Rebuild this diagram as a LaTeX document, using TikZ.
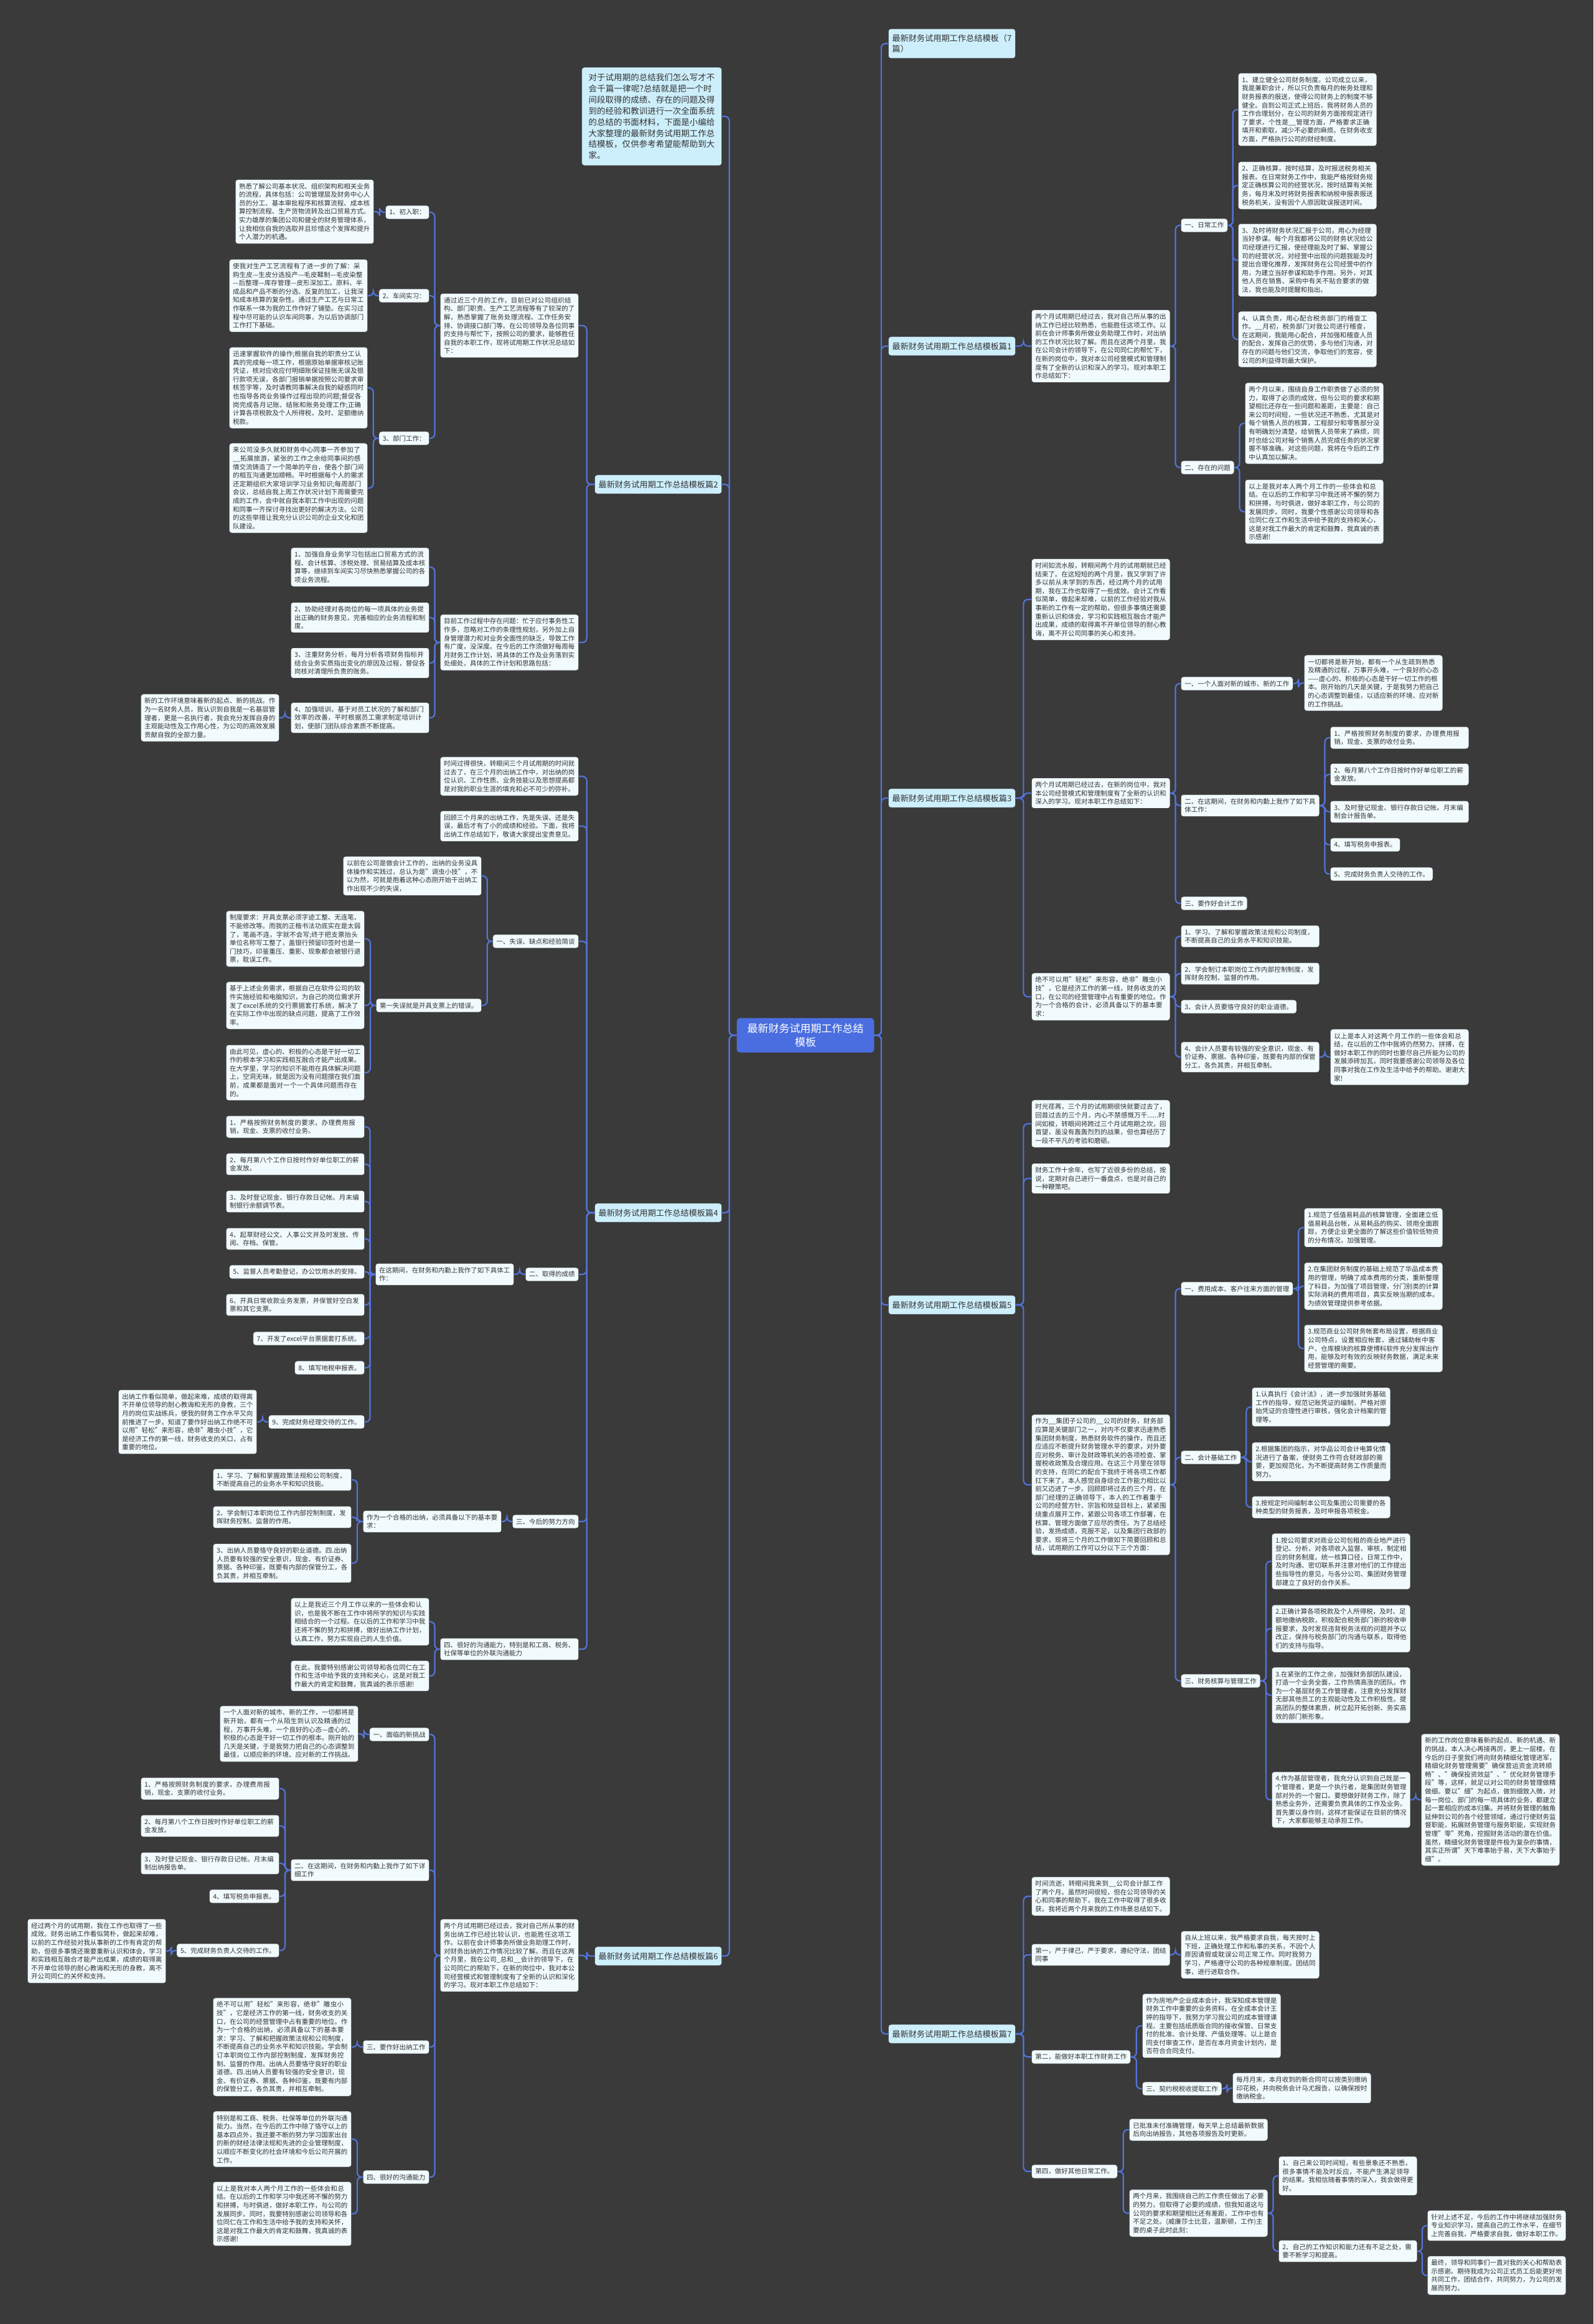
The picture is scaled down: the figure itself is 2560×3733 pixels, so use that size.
\documentclass[tikz,border=0pt]{standalone}
\usepackage{fontspec}
\setmainfont{Noto Sans CJK SC}
\XeTeXlinebreaklocale "zh"
\XeTeXlinebreakskip=0pt plus 1pt
\usepackage{tikz}
\usetikzlibrary{calc}
\definecolor{mapBg}{HTML}{3A3A3A}
\definecolor{mapLink}{HTML}{5274DA}
\definecolor{mapRoot}{HTML}{4A6EE0}
\definecolor{mapHead}{HTML}{CDEFFC}
\definecolor{mapLeaf}{HTML}{F1FAFD}
\definecolor{mapInk}{HTML}{333333}
\newcommand{\toR}[2]{\draw[link] (#1.east) -- ($(#1.east)!.5!(#1.east -| #2.west)$) |- (#2.west);}
\newcommand{\toL}[2]{\draw[link] (#1.west) -- ($(#1.west)!.5!(#1.west -| #2.east)$) |- (#2.east);}

\begin{document}
\begin{tikzpicture}[
  x=1pt,y=-1pt,
  box/.style={draw=black!75,line width=.6pt,rounded corners=4pt,text=mapInk,inner xsep=6pt,inner ysep=6pt,
    font=\fontsize{10.5}{13.6}\selectfont},
  leaf/.style={box,fill=mapLeaf,text width=210.5pt,align=left},
  tag/.style={box,fill=mapLeaf},
  head/.style={box,fill=mapHead,inner ysep=9pt,font=\fontsize{13.2}{17}\selectfont},
  intro/.style={box,fill=mapHead,text width=203pt,align=left,inner xsep=11pt,inner ysep=10pt,font=\fontsize{13.5}{17.9}\selectfont},
  root/.style={draw=black!75,rounded corners=5pt,fill=mapRoot,text=white,align=center,inner xsep=17pt,inner ysep=9pt,
    font=\fontsize{17}{22}\selectfont},
  link/.style={draw=mapLink,line width=2.2pt,rounded corners=7pt},
  R/.style={anchor=west},
  L/.style={anchor=east}
]
\fill[mapBg] (0,0) rectangle (2560,3733);
\useasboundingbox (0,0) rectangle (2560,3733);

\node[root] (root) at (1294,1663) {最新财务试用期工作总结\\模板};

% right side
\node[head,R,align=left] (r0) at (1427,70) {最新财务试用期工作总结模板（7\\篇）};

\node[head,R] (r1) at (1427,556) {最新财务试用期工作总结模板篇1};
\node[leaf,R] (r1t) at (1657,556) {两个月试用期已经过去，我对自己所从事的出纳工作已经比较熟悉，也能胜任这项工作。以前在会计师事务所做业务助理工作时，对出纳的工作状况比较了解。而且在这两个月里，我在公司会计的领导下，在公司同仁的帮忙下，在新的岗位中，我对本公司经营模式和管理制度有了全新的认识和深入的学习。现对本职工作总结如下：};
\node[tag,R] (r1a) at (1897,362) {一、日常工作};
\node[tag,R] (r1b) at (1897,751) {二、存在的问题};
\node[leaf,R] (r1a1) at (1989,176) {1、建立健全公司财务制度。公司成立以来，我是兼职会计，所以只负责每月的帐务处理和财务报表的报送，使得公司财务上的制度不够健全。自到公司正式上班后，我将财务人员的工作合理划分，在公司的财务方面按规定进行了要求，个性是\_\_管理方面，严格要求正确填开和索取，减少不必要的麻烦。在财务收支方面，严格执行公司的财经制度。};
\node[leaf,R] (r1a2) at (1989,298) {2、正确核算，按时结算，及时报送税务相关报表。在日常财务工作中，我能严格按财务规定正确核算公司的经营状况，按时结算有关帐务，每月末及时将财务报表和纳税申报表报送税务机关，没有因个人原因耽误报送时间。};
\node[leaf,R] (r1a3) at (1989,418) {3、及时将财务状况汇报于公司，用心为经理当好参谋。每个月我都将公司的财务状况给公司经理进行汇报，使经理能及时了解、掌握公司的经营状况，对经营中出现的问题我能及时提出合理化推荐，发挥财务在公司经营中的作用，为建立当好参谋和助手作用。另外，对其他人员在销售、采购中有关不贴合要求的做法，我也能及时提醒和指出。};
\node[leaf,R] (r1a4) at (1989,545) {4、认真负责，用心配合税务部门的稽查工作。\_\_月初，税务部门对我公司进行稽查，在这期间，我能用心配合，并加强和稽查人员的配合，发挥自己的优势，多与他们沟通，对存在的问题与他们交流，争取他们的宽容，使公司的利益得到最大保护。};
\node[leaf,R] (r1b1) at (2000,680) {两个月以来，围绕自身工作职责做了必须的努力，取得了必须的成效，但与公司的要求和期望相比还存在一些问题和差距，主要是：自己来公司时间短，一些状况还不熟悉，尤其是对每个销售人员的核算，工程部分和零售部分没有明确划分清楚，给销售人员带来了麻烦，同时也给公司对每个销售人员完成任务的状况掌握不够准确。对这些问题，我将在今后的工作中认真加以解决。};
\node[leaf,R] (r1b2) at (2000,822) {以上是我对本人两个月工作的一些体会和总结。在以后的工作和学习中我还将不懈的努力和拼搏，与时俱进，做好本职工作，与公司的发展同步。同时，我要个性感谢公司领导和各位同仁在工作和生活中给予我的支持和关心，这是对我工作最大的肯定和鼓舞，我真诚的表示感谢!};

\node[head,R] (r3) at (1427,1282) {最新财务试用期工作总结模板篇3};
\node[leaf,R] (r3t1) at (1657,963) {时间如流水般，转眼间两个月的试用期就已经结束了。在这短短的两个月里，我又学到了许多以前从未学到的东西，经过两个月的试用期，我在工作也取得了一些成效。会计工作看似简单，做起来却难，以前的工作经验对我从事新的工作有一定的帮助，但很多事情还需要重新认识和体会，学习和实践相互融合才能产出成果，成绩的取得离不开单位领导的耐心教诲，离不开公司同事的关心和支持。};
\node[leaf,R] (r3t2) at (1657,1274) {两个月试用期已经过去，在新的岗位中，我对本公司经营模式和管理制度有了全新的认识和深入的学习。现对本职工作总结如下：};
\node[leaf,R] (r3t3) at (1657,1601) {绝不可以用"轻松"来形容，绝非"雕虫小技"，它是经济工作的第一线，财务收支的关口，在公司的经营管理中占有重要的地位。作为一个合格的会计，必须具备以下的基本要求：};
\node[tag,R] (r3a) at (1897,1098) {一、一个人面对新的城市、新的工作};
\node[leaf,R] (r3b) at (1897,1294) {二、在这期间，在财务和内勤上我作了如下具体工作：};
\node[tag,R] (r3c) at (1897,1451) {三、要作好会计工作};
\node[leaf,R] (r3a1) at (2095,1097) {一切都将是新开始，都有一个从生疏到熟悉及精通的过程，万事开头难，一个良好的心态——虚心的、积极的心态是干好一切工作的根本。刚开始的几天是关键，于是我努力把自己的心态调整到最佳，以适应新的环境、应对新的工作挑战。};
\node[leaf,R] (r3b1) at (2137,1185) {1、严格按照财务制度的要求，办理费用报销，现金、支票的收付业务。};
\node[leaf,R] (r3b2) at (2137,1244) {2、每月第八个工作日按时作好单位职工的薪金发放。};
\node[leaf,R] (r3b3) at (2137,1304) {3、及时登记现金、银行存款日记帐。月末编制会计报告单。};
\node[tag,R] (r3b4) at (2137,1357) {4、填写税务申报表。};
\node[tag,R] (r3b5) at (2137,1404) {5、完成财务负责人交待的工作。};
\node[leaf,R] (r3d1) at (1897,1504) {1、学习、了解和掌握政策法规和公司制度，不断提高自己的业务水平和知识技能。};
\node[leaf,R] (r3d2) at (1897,1564) {2、学会制订本职岗位工作内部控制制度，发挥财务控制、监督的作用。};
\node[tag,R] (r3d3) at (1897,1617) {3、会计人员要恪守良好的职业道德。};
\node[leaf,R] (r3d4) at (1897,1698) {4、会计人员要有较强的安全意识，现金、有价证券、票据、各种印鉴，既要有内部的保管分工，各负其责，并相互牵制。};
\node[leaf,R] (r3d4a) at (2137,1698) {以上是本人对这两个月工作的一些体会和总结，在以后的工作中我将仍然努力、拼搏，在做好本职工作的同时也要尽自己所能为公司的发展添砖加瓦，同时我要感谢公司领导及各位同事对我在工作及生活中给予的帮助。谢谢大家!};

\node[head,R] (r5) at (1427,2096) {最新财务试用期工作总结模板篇5};
\node[leaf,R] (r5t1) at (1657,1805) {时光荏苒，三个月的试用期很快就要过去了，回首过去的三个月，内心不禁感慨万千......时间如梭，转眼间将跨过三个月试用期之坎，回首望，虽没有轰轰烈烈的战果，但也算经历了一段不平凡的考验和磨砺。};
\node[leaf,R] (r5t2) at (1657,1893) {财务工作十余年，也写了近很多份的总结，按说，定期对自己进行一番盘点，也是对自己的一种鞭策吧。};
\node[leaf,R] (r5t3) at (1657,2385) {作为\_\_集团子公司的\_\_公司的财务，财务部应算是关键部门之一，对内不仅要求迅速熟悉集团财务制度，熟悉财务软件的操作，而且还应适应不断提升财务管理水平的要求，对外要应对税务、审计及财政等机关的各项检查、掌握税收政策及合理应用。在这三个月里在领导的支持，在同仁的配合下我终于将各项工作都扛下来了。本人感觉自身综合工作能力相比以前又迈进了一步。回顾即将过去的三个月，在部门经理的正确领导下，本人的工作着重于公司的经营方针、宗旨和效益目标上，紧紧围绕重点展开工作，紧跟公司各项工作部署，在核算、管理方面做了应尽的责任。为了总结经验，发扬成绩，克服不足，以及集团行政部的要求，现将三个月的工作做如下简要回顾和总结，试用期的工作可以分以下三个方面：};
\node[tag,R] (r5a) at (1897,2070) {一、费用成本、客户往来方面的管理};
\node[tag,R] (r5b) at (1897,2341) {二、会计基础工作};
\node[tag,R] (r5c) at (1897,2700) {三、财务核算与管理工作};
\node[leaf,R] (r5a1) at (2095,1972) {1.规范了低值易耗品的核算管理，全面建立低值易耗品台帐，从易耗品的购买、领用全面跟踪，方便企业更全面的了解这些价值较低物资的分布情况，加强管理。};
\node[leaf,R] (r5a2) at (2095,2066) {2.在集团财务制度的基础上规范了华品成本费用的管理，明确了成本费用的分类，重新整理了科目，为加强了项目管理，分门别类的计算实际消耗的费用项目，真实反映当期的成本。为绩效管理提供参考依据。};
\node[leaf,R] (r5a3) at (2095,2166) {3.规范商业公司财务帐套布局设置，根据商业公司特点，设置相应帐套，通过辅助帐中客户、仓库模块的核算使博科软件充分发挥出作用，能够及时有效的反映财务数据，满足未来经营管理的需要。};
\node[leaf,R] (r5b1) at (2011,2260) {1.认真执行《会计法》，进一步加强财务基础工作的指导，规范记账凭证的编制，严格对原始凭证的合理性进行审核，强化会计档案的管理等。};
\node[leaf,R] (r5b2) at (2011,2348) {2.根据集团的指示，对华品公司会计电算化情况进行了备案，使财务工作符合财政部的需要，更加规范化，为不断提高财务工作质量而努力。};
\node[leaf,R] (r5b3) at (2011,2421) {3.按规定时间编制本公司及集团公司需要的各种类型的财务报表，及时申报各项税金。};
\node[leaf,R] (r5c1) at (2043,2508) {1.按公司要求对商业公司包租的商业地产进行登记、分析，对各项收入监督、审核，制定相应的财务制度。统一核算口径，日常工作中，及时沟通、密切联系并注意对他们的工作提出些指导性的意见，与各分公司、集团财务管理部建立了良好的合作关系。};
\node[leaf,R] (r5c2) at (2043,2616) {2.正确计算各项税款及个人所得税，及时、足额地缴纳税款，积极配合税务部门新的税收申报要求，及时发现违背税务法规的问题并予以改正，保持与税务部门的沟通与联系，取得他们的支持与指导。};
\node[leaf,R] (r5c3) at (2043,2723) {3.在紧张的工作之余，加强财务部团队建设，打造一个业务全面，工作热情高涨的团队。作为一个基层财务工作管理者，注意充分发挥财无部其他员工的主观能动性及工作积极性。提高团队的整体素质，树立起开拓创新、务实高效的部门新形象。};
\node[leaf,R] (r5c4) at (2043,2891) {4.作为基层管理者，我充分认识到自己既是一个管理者，更是一个执行者，是集团财务管理部对外的一个窗口。要想做好财务工作，除了熟悉业务外，还需要负责具体的工作及业务。首先要以身作则，这样才能保证在目前的情况下，大家都能够主动承担工作。};
\node[leaf,R] (r5c4a) at (2283,2891) {新的工作岗位意味着新的起点、新的机遇、新的挑战，本人决心再接再厉，更上一层楼。在今后的日子里我们将向财务精细化管理进军，精细化财务管理需要"确保营运资金流转顺畅"、"确保投资效益"、"优化财务管理手段"等，这样，就足以对公司的财务管理做精做细。要以"细"为起点，做到细致入微，对每一岗位、部门的每一项具体的业务，都建立起一套相应的成本归集。并将财务管理的触角延伸到公司的各个经营领域，通过行使财务监督职能，拓展财务管理与服务职能，实现财务管理"零"死角，挖掘财务活动的潜在价值。虽然，精细化财务管理是件极为复杂的事情，其实正所谓"天下难事始于易，天下大事始于细"。};

\node[head,R] (r7) at (1427,3267) {最新财务试用期工作总结模板篇7};
\node[leaf,R] (r7t1) at (1657,3046) {时间流逝，转眼间我来到\_\_公司会计部工作了两个月。虽然时间很短，但在公司领导的关心和同事的帮助下，我在工作中取得了很多收获。我将近两个月来我的工作场景总结如下。};
\node[leaf,R] (r7t2) at (1657,3140) {第一，严于律己，严于要求，遵纪守法，团结同事};
\node[leaf,R] (r7t2a) at (1897,3140) {自从上班以来，我严格要求自我，每天按时上下班，正确处理工作和私事的关系，不因个人原因请假或耽误公司正常工作。同时我努力学习，严格遵守公司的各种规章制度。团结同事，进行进取合作。};
\node[tag,R] (r7t3) at (1657,3304) {第二，能做好本职工作财务工作};
\node[leaf,R] (r7t3a) at (1835,3254) {作为房地产企业成本会计，我深知成本管理是财务工作中重要的业务资料，在全成本会计王婷的指导下，我努力学习我公司的成本管理课程。主要包括纸质版合同的接收保管、日常支付的批准、会计处理、产值处理等。以上是合同支付审查工作，是否在本月资金计划内，是否符合合同支付。};
\node[tag,R] (r7t3b) at (1835,3355) {三、契约税税收提取工作};
\node[leaf,R] (r7t3b1) at (1980,3354) {每月月末，本月收到的新合同可以按类别缴纳印花税，并向税务会计马尤报告，以确保按时缴纳税金。};
\node[tag,R] (r7t4) at (1657,3488) {第四，做好其他日常工作。};
\node[leaf,R] (r7t4a) at (1814,3421) {已批准未付准确管理，每天早上总结最新数据后向出纳报告，其他各项报告及时更新。};
\node[leaf,R] (r7t4b) at (1814,3555) {两个月来，我围绕自己的工作责任做出了必要的努力，但取得了必要的成绩，但我知道这与公司的要求和期望相比还有差距，工作中也有不足之处。(威廉莎士比亚，温斯顿，工作)主要的桌子此时此刻：};
\node[leaf,R] (r7t4b1) at (2054,3495) {1、自己来公司时间短，有些景象还不熟悉，很多事情不能及时反应，不能产生满足领导的结果。我相信随着事情的深入，我会做得更好。};
\node[leaf,R] (r7t4b2) at (2054,3616) {2、自己的工作知识和能力还有不足之处，需要不断学习和提高。};
\node[leaf,R] (r7t4b2a) at (2293,3575) {针对上述不足，今后的工作中将继续加强财务专业知识学习，提高自己的工作水平，在细节上完善自我，严格要求自我，做好本职工作。};
\node[leaf,R] (r7t4b2b) at (2293,3655) {最终，领导和同事们一直对我的关心和帮助表示感谢。期待我成为公司正式员工后能更好地共同工作，团结合作，共同努力，为公司的发展而努力。};

% left side
\node[intro,L] (intro) at (1160,187) {对于试用期的总结我们怎么写才不会千篇一律呢?总结就是把一个时间段取得的成绩、存在的问题及得到的经验和教训进行一次全面系统的总结的书面材料，下面是小编给大家整理的最新财务试用期工作总结模板，仅供参考希望能帮助到大家。};

\node[head,L] (l2) at (1160,778) {最新财务试用期工作总结模板篇2};
\node[leaf,L] (l2t1) at (930,523) {通过近三个月的工作，目前已对公司组织结构、部门职责、生产工艺流程等有了较深的了解，熟悉掌握了账务处理流程、工作任务安排、协调接口部门等。在公司领导及各位同事的支持与帮忙下，按照公司的要求，能够胜任自我的本职工作，现将试用期工作状况总结如下：};
\node[tag,L] (l2a) at (690,341) {1、初入职：};
\node[tag,L] (l2b) at (690,475) {2、车间实习：};
\node[tag,L] (l2c) at (690,704) {3、部门工作：};
\node[leaf,L] (l2a1) at (601,340) {熟悉了解公司基本状况、组织架构和相关业务的流程，具体包括：公司管理层及财务中心人员的分工、基本审批程序和核算流程、成本核算控制流程、生产货物流转及出口贸易方式。实力雄厚的集团公司和健全的财务管理体系，让我相信自我的选取并且珍惜这个发挥和提升个人潜力的机遇。};
\node[leaf,L] (l2b1) at (591,475) {使我对生产工艺流程有了进一步的了解：采购生皮—生皮分选投产—毛皮鞣制—毛皮染整—后整理—库存管理—皮形深加工。原料、半成品和产品不断的分选、反复的加工，让我深知成本核算的复杂性。通过生产工艺与日常工作联系一体为我的工作作好了铺垫。在实习过程中尽可能的认识车间同事，为以后协调部门工作打下基础。};
\node[leaf,L] (l2c1) at (591,623) {迅速掌握软件的操作;根据自我的职责分工认真的完成每一项工作，根据原始单据审核记账凭证，核对应收应付明细账保证挂账无误及银行款项无误，各部门报销单据按照公司要求审核签字等，及时请教同事解决自我的疑惑同时也指导各岗业务操作过程出现的问题;督促各岗完成各月记账、结账和账务处理工作;正确计算各项税款及个人所得税，及时、足额缴纳税款。};
\node[leaf,L] (l2c2) at (591,784) {来公司没多久就和财务中心同事一齐参加了\_\_拓展旅游，紧张的工作之余给同事间的感情交流铸造了一个简单的平台，使各个部门间的相互沟通更加顺畅。平时根据每个人的需求还定期组织大家培训学习业务知识;每周部门会议，总结自我上周工作状况计划下周需要完成的工作，会中就自我本职工作中出现的问题和同事一齐探讨寻找出更好的解决方法。公司的这些举措让我充分认识公司的企业文化和团队建设。};
\node[leaf,L] (l2t2) at (930,1032) {目前工作过程中存在问题：忙于应付事务性工作多，忽略对工作的条理性规划，另外加上自身管理潜力和对业务全面性的缺乏，导致工作有广度，没深度。在今后的工作须做好每周每月财务工作计划，将具体的工作及业务落到实处细处，具体的工作计划和思路包括：};
\node[leaf,L] (l2d1) at (690,911) {1、加强自身业务学习包括出口贸易方式的流程、会计核算、涉税处理、贸易结算及成本核算等，继续到车间实习尽快熟悉掌握公司的各项业务流程。};
\node[leaf,L] (l2d2) at (690,992) {2、协助经理对各岗位的每一项具体的业务提出正确的财务意见，完善相应的业务流程和制度。};
\node[leaf,L] (l2d3) at (690,1065) {3、注重财务分析，每月分析各项财务指标并结合业务实质指出变化的原因及过程，督促各岗核对清理所负责的账务。};
\node[leaf,L] (l2d4) at (690,1153) {4、加强培训，基于对员工状况的了解和部门效率的改善，平时根据员工需求制定培训计划，使部门团队综合素质不断提高。};
\node[leaf,L] (l2d4a) at (449,1153) {新的工作环境意味着新的起点、新的挑战。作为一名财务人员，我认识到自我是一名基层管理者，更是一名执行者，我会充分发挥自身的主观能动性及工作用心性，为公司的高效发展贡献自我的全部力量。};

\node[head,L] (l4) at (1160,1948) {最新财务试用期工作总结模板篇4};
\node[leaf,L] (l4t1) at (930,1247) {时间过得很快，转眼间三个月试用期的时间就过去了，在三个月的出纳工作中，对出纳的岗位认识、工作性质、业务技能以及思想提高都是对我的职业生涯的填充和必不可少的弥补。};
\node[leaf,L] (l4t2) at (930,1327) {回顾三个月来的出纳工作，先是失误、还是失误，最后才有了小的成绩和经验。下面，我将出纳工作总结如下，敬请大家提出宝贵意见。};
\node[tag,L] (l4a) at (930,1512) {一、失误、缺点和经验简谈};
\node[leaf,L] (l4a1) at (774,1407) {以前在公司是做会计工作的，出纳的业务没具体操作和实践过，总认为是"调虫小技"，不以为然，可就是抱着这种心态刚开始干出纳工作出现不少的失误，};
\node[tag,L] (l4a2) at (774,1615) {第一失误就是开具支票上的错误。};
\node[leaf,L] (l4a2x) at (586,1508) {制度要求：开具支票必须字迹工整、无连笔、不能修改等。而我的正楷书法功底实在是太弱了，笔画不连，字就不会写;终于把支票抬头单位名称写工整了，盖银行预留印签时也是一门技巧，印鉴重压、重影、现象都会被银行退票，耽误工作。};
\node[leaf,L] (l4a2y) at (586,1615) {基于上述业务需求，根据自己在软件公司的软件实施经验和电脑知识，为自己的岗位需求开发了excel系统的交行票据套打系统，解决了在实际工作中出现的缺点问题，提高了工作效率。};
\node[leaf,L] (l4a2z) at (586,1723) {由此可见，虚心的、积极的心态是干好一切工作的根本学习和实践相互融合才能产出成果。在大学里，学习的知识不能用在具体解决问题上，空洞无味，就是因为没有问题摆在我们面前，成果都是面对一个一个具体问题而存在的。};
\node[tag,L] (l4b) at (930,2047) {二、取得的成绩};
\node[leaf,L] (l4b1) at (826,2047) {在这期间，在财务和内勤上我作了如下具体工作：};
\node[leaf,L] (l4w1) at (586,1810) {1、严格按照财务制度的要求，办理费用报销，现金、支票的收付业务。};
\node[leaf,L] (l4w2) at (586,1870) {2、每月第八个工作日按时作好单位职工的薪金发放。};
\node[leaf,L] (l4w3) at (586,1930) {3、及时登记现金、银行存款日记帐。月末编制银行余额调节表。};
\node[leaf,L] (l4w4) at (586,1990) {4、起草财经公文、人事公文并及时发放、传阅、存档、保管。};
\node[tag,L] (l4w5) at (586,2043) {5、监督人员考勤登记，办公饮用水的安排。};
\node[leaf,L] (l4w6) at (586,2096) {6、开具日常收款业务发票，并保管好空白发票和其它支票。};
\node[tag,L] (l4w7) at (586,2150) {7、开发了excel平台票据套打系统。};
\node[tag,L] (l4w8) at (586,2197) {8、填写地税申报表。};
\node[tag,L] (l4w9) at (586,2284) {9、完成财务经理交待的工作。};
\node[leaf,L] (l4w9a) at (413,2284) {出纳工作看似简单，做起来难，成绩的取得离不开单位领导的耐心教诲和无形的身教，三个月的岗位实战练兵，使我的财务工作水平又向前推进了一步。知道了要作好出纳工作绝不可以用"轻松"来形容，绝非"雕虫小技"，它是经济工作的第一线，财务收支的关口，占有重要的地位。};
\node[tag,L] (l4c) at (930,2444) {三、今后的努力方向};
\node[leaf,L] (l4c1) at (806,2444) {作为一个合格的出纳，必须具备以下的基本要求：};
\node[leaf,L] (l4c11) at (565,2377) {1、学习、了解和掌握政策法规和公司制度，不断提高自己的业务水平和知识技能。};
\node[leaf,L] (l4c12) at (565,2437) {2、学会制订本职岗位工作内部控制制度，发挥财务控制、监督的作用。};
\node[leaf,L] (l4c13) at (565,2511) {3、出纳人员要恪守良好的职业道德。四.出纳人员要有较强的安全意识，现金、有价证券、票据、各种印鉴，既要有内部的保管分工，各负其责，并相互牵制。};
\node[leaf,L] (l4d) at (930,2649) {四、很好的沟通能力，特别是和工商、税务、社保等单位的外联沟通能力};
\node[leaf,L] (l4d1) at (690,2605) {以上是我近三个月工作以来的一些体会和认识，也是我不断在工作中将所学的知识与实践相结合的一个过程。在以后的工作和学习中我还将不懈的努力和拼搏，做好出纳工作计划，认真工作，努力实现自己的人生价值。};
\node[leaf,L] (l4d2) at (690,2692) {在此，我要特别感谢公司领导和各位同仁在工作和生活中给予我的支持和关心，这是对我工作最大的肯定和鼓舞，我真诚的表示感谢!};

\node[head,L] (l6) at (1160,3142) {最新财务试用期工作总结模板篇6};
\node[leaf,L] (l6t) at (930,3141) {两个月试用期已经过去，我对自己所从事的财务出纳工作已经比较认识，也能胜任这项工作。以前在会计师事务所做业务助理工作时，对财务出纳的工作情况比较了解。而且在这两个月里，我在公司\_总和\_\_会计的领导下，在公司同仁的帮助下，在新的岗位中，我对本公司经营模式和管理制度有了全新的认识和深化的学习。现对本职工作总结如下：};
\node[tag,L] (l6a) at (690,2786) {一、面临的新挑战};
\node[leaf,L] (l6a1) at (576,2785) {一个人面对新的城市、新的工作，一切都将是新开始，都有一个从陌生到认识及精通的过程，万事开头难，一个良好的心态—虚心的、积极的心态是干好一切工作的根本。刚开始的几天是关键，于是我努力把自己的心态调整到最佳，以顺应新的环境、应对新的工作挑战。};
\node[leaf,L] (l6b) at (690,3004) {二、在这期间，在财务和内勤上我作了如下详细工作};
\node[leaf,L] (l6b1) at (449,2873) {1、严格按照财务制度的要求，办理费用报销，现金、支票的收付业务。};
\node[leaf,L] (l6b2) at (449,2933) {2、每月第八个工作日按时作好单位职工的薪金发放。};
\node[leaf,L] (l6b3) at (449,2993) {3、及时登记现金、银行存款日记帐。月末编制出纳报告单。};
\node[tag,L] (l6b4) at (449,3046) {4、填写税务申报表。};
\node[tag,L] (l6b5) at (449,3133) {5、完成财务负责人交待的工作。};
\node[leaf,L] (l6b5a) at (267,3134) {经过两个月的试用期，我在工作也取得了一些成效。财务出纳工作看似简朴，做起来却难，以前的工作经验对我从事新的工作有肯定的帮助，但很多事情还需要重新认识和体会，学习和实践相互融合才能产出成果，成绩的取得离不开单位领导的耐心教诲和无形的身教，离不开公司同仁的关怀和支持。};
\node[tag,L] (l6c) at (690,3288) {三、要作好出纳工作};
\node[leaf,L] (l6c1) at (565,3288) {绝不可以用"轻松"来形容，绝非"雕虫小技"，它是经济工作的第一线，财务收支的关口，在公司的经营管理中占有重要的地位。作为一个合格的出纳，必须具备以下的基本要求：学习、了解和把握政策法规和公司制度，不断提高自己的业务水平和知识技能。学会制订本职岗位工作内部控制制度，发挥财务控制、监督的作用。出纳人员要恪守良好的职业道德。四.出纳人员要有较强的安全意识，现金、有价证券、票据、各种印鉴，既要有内部的保管分工，各负其责，并相互牵制。};
\node[tag,L] (l6d) at (690,3497) {四、很好的沟通能力};
\node[leaf,L] (l6d1) at (565,3436) {特别是和工商、税务、社保等单位的外联沟通能力。当然，在今后的工作中除了恪守以上的基本四点外，我还要不断的努力学习国家出台的新的财经法律法规和先进的企业管理制度，以顺应不断变化的社会环境和今后公司开展的工作。};
\node[leaf,L] (l6d2) at (565,3556) {以上是我对本人两个月工作的一些体会和总结。在以后的工作和学习中我还将不懈的努力和拼搏，与时俱进，做好本职工作，与公司的发展同步。同时，我要特别感谢公司领导和各位同仁在工作和生活中给予我的支持和关怀，这是对我工作最大的肯定和鼓舞，我真诚的表示感谢!};

% connectors
\foreach \c in {r0,r1,r3,r5,r7} {\toR{root}{\c}}
\foreach \c in {intro,l2,l4,l6} {\toL{root}{\c}}
\toR{r1}{r1t}
\foreach \c in {r1a,r1b} {\toR{r1t}{\c}}
\foreach \c in {r1a1,r1a2,r1a3,r1a4} {\toR{r1a}{\c}}
\foreach \c in {r1b1,r1b2} {\toR{r1b}{\c}}
\foreach \c in {r3t1,r3t2,r3t3} {\toR{r3}{\c}}
\foreach \c in {r3a,r3b,r3c} {\toR{r3t2}{\c}}
\toR{r3a}{r3a1}
\foreach \c in {r3b1,r3b2,r3b3,r3b4,r3b5} {\toR{r3b}{\c}}
\foreach \c in {r3d1,r3d2,r3d3,r3d4} {\toR{r3t3}{\c}}
\toR{r3d4}{r3d4a}
\foreach \c in {r5t1,r5t2,r5t3} {\toR{r5}{\c}}
\foreach \c in {r5a,r5b,r5c} {\toR{r5t3}{\c}}
\foreach \c in {r5a1,r5a2,r5a3} {\toR{r5a}{\c}}
\foreach \c in {r5b1,r5b2,r5b3} {\toR{r5b}{\c}}
\foreach \c in {r5c1,r5c2,r5c3,r5c4} {\toR{r5c}{\c}}
\toR{r5c4}{r5c4a}
\foreach \c in {r7t1,r7t2,r7t3,r7t4} {\toR{r7}{\c}}
\toR{r7t2}{r7t2a}
\foreach \c in {r7t3a,r7t3b} {\toR{r7t3}{\c}}
\toR{r7t3b}{r7t3b1}
\foreach \c in {r7t4a,r7t4b} {\toR{r7t4}{\c}}
\foreach \c in {r7t4b1,r7t4b2} {\toR{r7t4b}{\c}}
\foreach \c in {r7t4b2a,r7t4b2b} {\toR{r7t4b2}{\c}}

\foreach \c in {l2t1,l2t2} {\toL{l2}{\c}}
\foreach \c in {l2a,l2b,l2c} {\toL{l2t1}{\c}}
\toL{l2a}{l2a1}
\toL{l2b}{l2b1}
\foreach \c in {l2c1,l2c2} {\toL{l2c}{\c}}
\foreach \c in {l2d1,l2d2,l2d3,l2d4} {\toL{l2t2}{\c}}
\toL{l2d4}{l2d4a}
\foreach \c in {l4t1,l4t2,l4a,l4b,l4c,l4d} {\toL{l4}{\c}}
\foreach \c in {l4a1,l4a2} {\toL{l4a}{\c}}
\foreach \c in {l4a2x,l4a2y,l4a2z} {\toL{l4a2}{\c}}
\toL{l4b}{l4b1}
\foreach \c in {l4w1,l4w2,l4w3,l4w4,l4w5,l4w6,l4w7,l4w8,l4w9} {\toL{l4b1}{\c}}
\toL{l4w9}{l4w9a}
\toL{l4c}{l4c1}
\foreach \c in {l4c11,l4c12,l4c13} {\toL{l4c1}{\c}}
\foreach \c in {l4d1,l4d2} {\toL{l4d}{\c}}
\toL{l6}{l6t}
\foreach \c in {l6a,l6b,l6c,l6d} {\toL{l6t}{\c}}
\toL{l6a}{l6a1}
\foreach \c in {l6b1,l6b2,l6b3,l6b4,l6b5} {\toL{l6b}{\c}}
\toL{l6b5}{l6b5a}
\toL{l6c}{l6c1}
\foreach \c in {l6d1,l6d2} {\toL{l6d}{\c}}
\end{tikzpicture}
\end{document}
